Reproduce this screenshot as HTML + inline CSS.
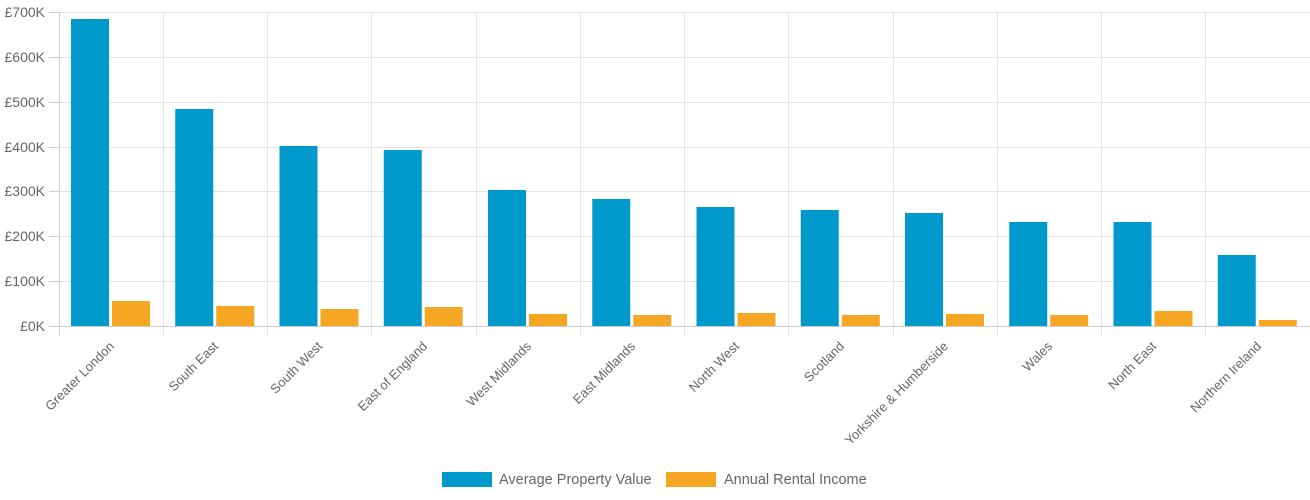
<!DOCTYPE html>
<html><head><style>body{margin:0;background:#fff}svg{display:block;font-family:"Liberation Sans",sans-serif}</style></head><body>
<svg width="1310" height="500" xmlns="http://www.w3.org/2000/svg">
<g stroke="#e3e3e3" stroke-width="1">
<line x1="59" y1="12.5" x2="1310" y2="12.5"/><line x1="59" y1="57.5" x2="1310" y2="57.5"/><line x1="59" y1="102.5" x2="1310" y2="102.5"/><line x1="59" y1="147.5" x2="1310" y2="147.5"/><line x1="59" y1="191.5" x2="1310" y2="191.5"/><line x1="59" y1="236.5" x2="1310" y2="236.5"/><line x1="59" y1="281.5" x2="1310" y2="281.5"/>
<line x1="163.5" y1="12" x2="163.5" y2="336"/><line x1="267.5" y1="12" x2="267.5" y2="336"/><line x1="371.5" y1="12" x2="371.5" y2="336"/><line x1="476.5" y1="12" x2="476.5" y2="336"/><line x1="580.5" y1="12" x2="580.5" y2="336"/><line x1="684.5" y1="12" x2="684.5" y2="336"/><line x1="788.5" y1="12" x2="788.5" y2="336"/><line x1="893.5" y1="12" x2="893.5" y2="336"/><line x1="997.5" y1="12" x2="997.5" y2="336"/><line x1="1101.5" y1="12" x2="1101.5" y2="336"/><line x1="1205.5" y1="12" x2="1205.5" y2="336"/>
</g>
<g stroke="#ccc"><line x1="59.5" y1="12" x2="59.5" y2="336"/><line x1="49" y1="326.5" x2="1310" y2="326.5"/>
<line x1="49" y1="12.5" x2="59" y2="12.5"/><line x1="49" y1="57.5" x2="59" y2="57.5"/><line x1="49" y1="102.5" x2="59" y2="102.5"/><line x1="49" y1="147.5" x2="59" y2="147.5"/><line x1="49" y1="191.5" x2="59" y2="191.5"/><line x1="49" y1="236.5" x2="59" y2="236.5"/><line x1="49" y1="281.5" x2="59" y2="281.5"/></g>
<g fill="#666" font-size="14" text-anchor="end">
<text x="45" y="17">£700K</text><text x="45" y="62">£600K</text><text x="45" y="107">£500K</text><text x="45" y="152">£400K</text><text x="45" y="196">£300K</text><text x="45" y="241">£200K</text><text x="45" y="286">£100K</text><text x="45" y="331">£0K</text>
</g>
<g fill="#0099cc">
<rect x="71" y="19" width="38" height="307"/><rect x="175.25" y="109" width="38" height="217"/><rect x="279.5" y="146" width="38" height="180"/><rect x="383.75" y="150" width="38" height="176"/><rect x="488" y="190" width="38" height="136"/><rect x="592.25" y="199" width="38" height="127"/><rect x="696.5" y="207" width="38" height="119"/><rect x="800.75" y="210" width="38" height="116"/><rect x="905" y="213" width="38" height="113"/><rect x="1009.25" y="222" width="38" height="104"/><rect x="1113.5" y="222" width="38" height="104"/><rect x="1217.75" y="255" width="38" height="71"/>
</g>
<g fill="#f5a623">
<rect x="112" y="301" width="38" height="25"/><rect x="216.25" y="306" width="38" height="20"/><rect x="320.5" y="309" width="38" height="17"/><rect x="424.75" y="307" width="38" height="19"/><rect x="529" y="314" width="38" height="12"/><rect x="633.25" y="315" width="38" height="11"/><rect x="737.5" y="313" width="38" height="13"/><rect x="841.75" y="315" width="38" height="11"/><rect x="946" y="314" width="38" height="12"/><rect x="1050.25" y="315" width="38" height="11"/><rect x="1154.5" y="311" width="38" height="15"/><rect x="1258.75" y="320" width="38" height="6"/>
</g>
<g fill="#666" font-size="13" text-anchor="end">
<text transform="translate(115,347) rotate(-45)">Greater London</text>
<text transform="translate(219,347) rotate(-45)">South East</text>
<text transform="translate(323,347) rotate(-45)">South West</text>
<text transform="translate(428,347) rotate(-45)">East of England</text>
<text transform="translate(532,347) rotate(-45)">West Midlands</text>
<text transform="translate(636,347) rotate(-45)">East Midlands</text>
<text transform="translate(740,347) rotate(-45)">North West</text>
<text transform="translate(845,347) rotate(-45)">Scotland</text>
<text transform="translate(949,347) rotate(-45)">Yorkshire &amp; Humberside</text>
<text transform="translate(1053,347) rotate(-45)">Wales</text>
<text transform="translate(1157,347) rotate(-45)">North East</text>
<text transform="translate(1262,347) rotate(-45)">Northern Ireland</text>
</g>
<rect x="442" y="472" width="50" height="15" fill="#0099cc"/>
<text x="499" y="484" font-size="14.5" fill="#666">Average Property Value</text>
<rect x="666" y="472" width="50" height="15" fill="#f5a623"/>
<text x="724" y="484" font-size="14.5" fill="#666">Annual Rental Income</text>
</svg>
</body></html>
